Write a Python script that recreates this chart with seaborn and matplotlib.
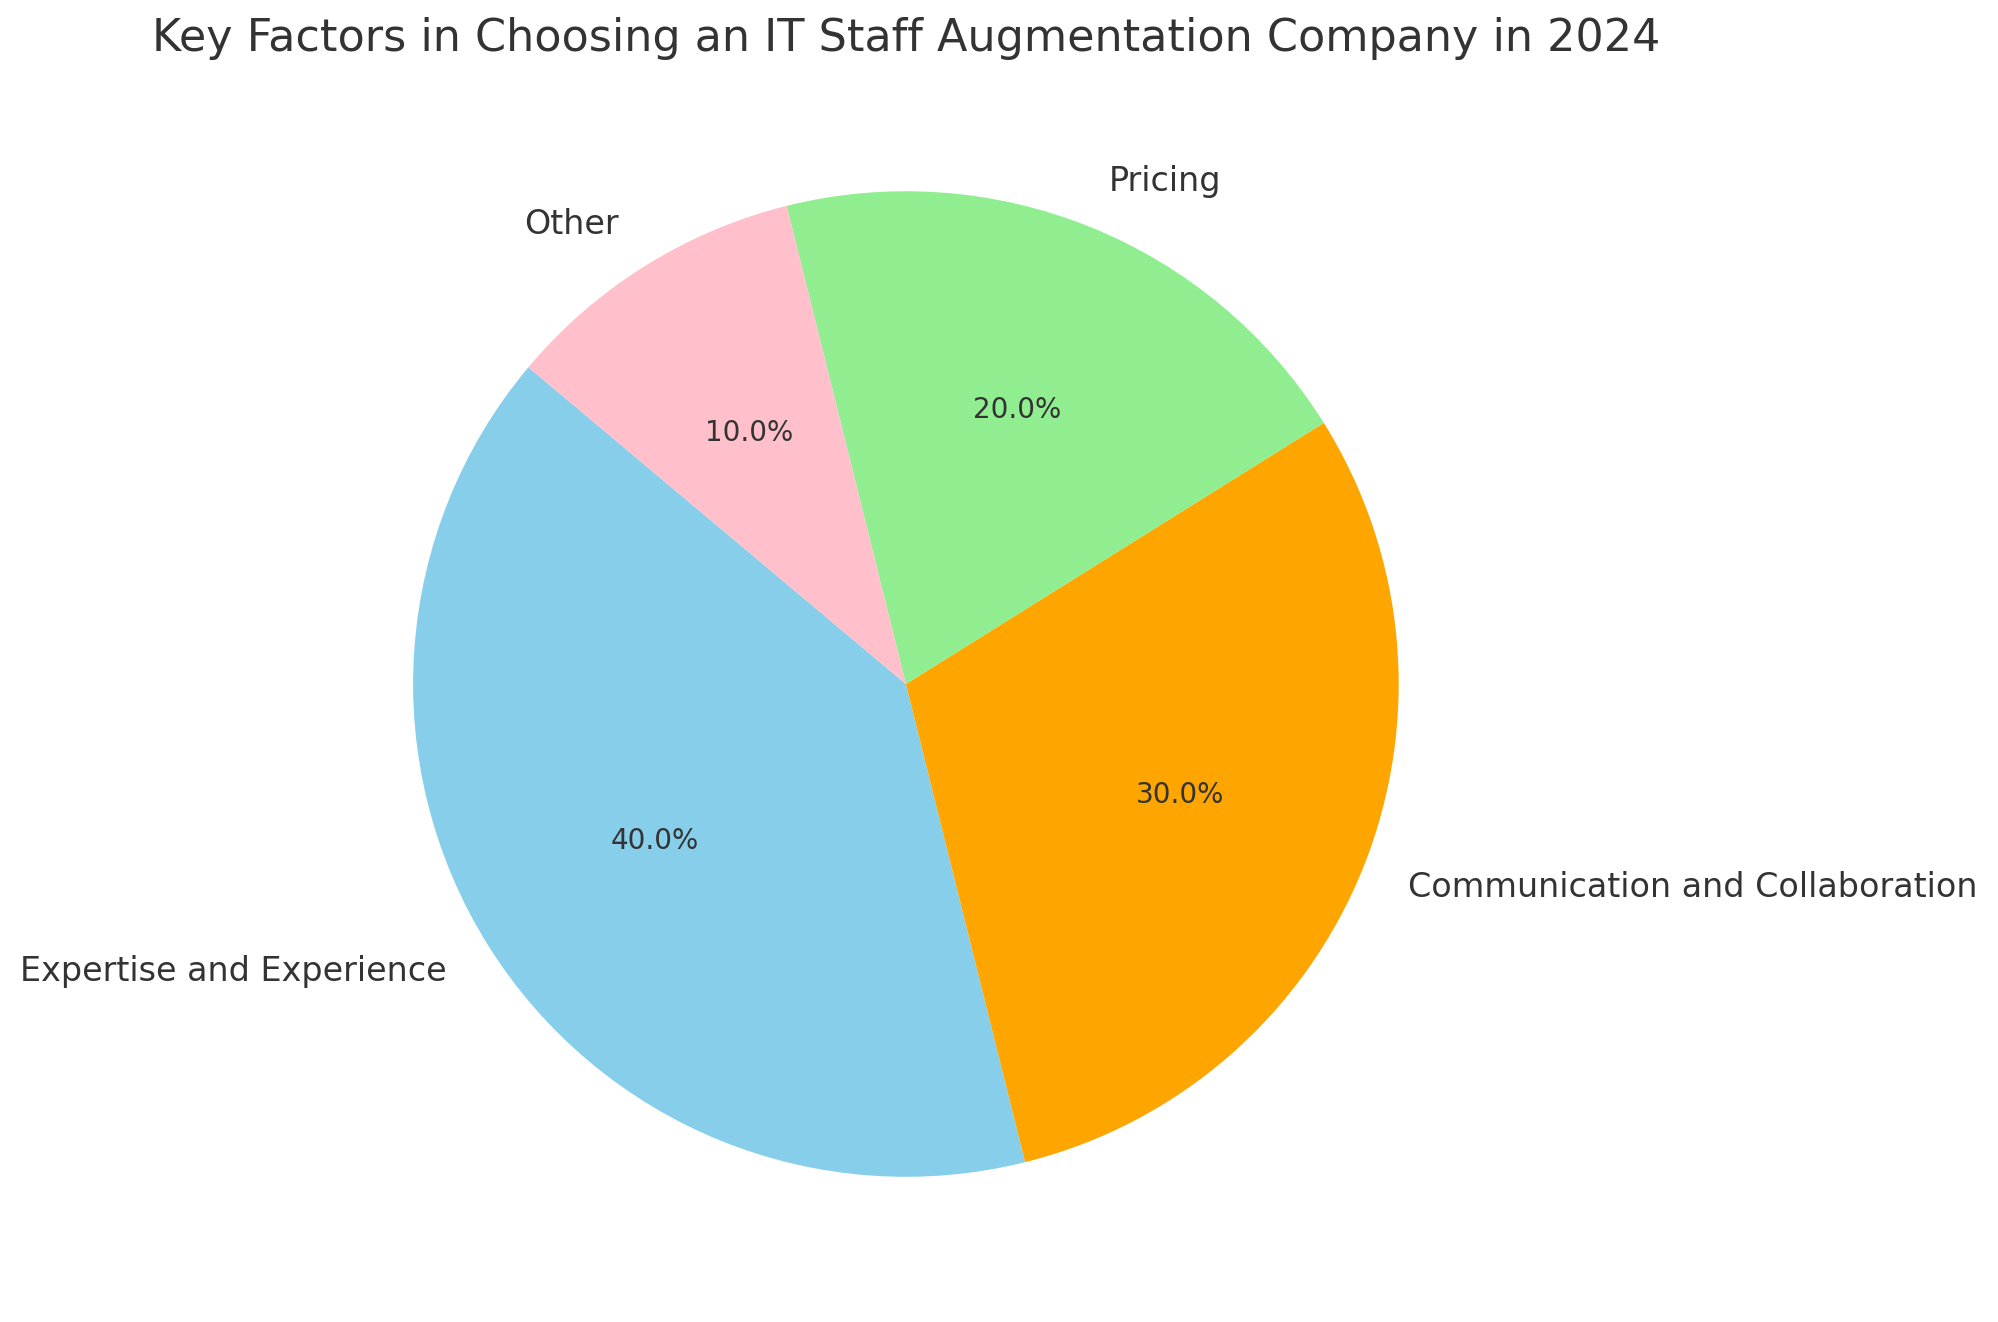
import matplotlib
matplotlib.use("Agg")
import matplotlib.pyplot as plt
import seaborn as sns

categories = ["Expertise and Experience", "Communication and Collaboration", "Pricing", "Other"]
values = [40, 30, 20, 10]
colors = ["skyblue", "orange", "lightgreen", "pink"]

sns.set_theme(style="white")
plt.rcParams['font.family'] = ['DejaVu Sans']
TXT = "#333333"

fig = plt.figure(figsize=(9.99, 6.61), dpi=200)
ax = fig.add_axes([0.1451, 0.01664, 0.6166, 0.9319])
wedges, texts, autotexts = ax.pie(values, labels=categories, colors=colors, autopct="%1.1f%%",
                                  startangle=140, wedgeprops={"linewidth": 0, "edgecolor": "none"},
                                  textprops={"fontsize": 12, "color": TXT})
for t in autotexts:
    t.set_fontsize(10)
ax.set_aspect("equal")
ax.set_xlim(-1.25, 1.25)
ax.set_ylim(-1.25, 1.25)
fig.text(0.4535, 1 - 38 / 1322, "Key Factors in Choosing an IT Staff Augmentation Company in 2024",
         fontsize=16, color=TXT, ha="center", va="center")
fig.savefig("out.png", dpi=200)
